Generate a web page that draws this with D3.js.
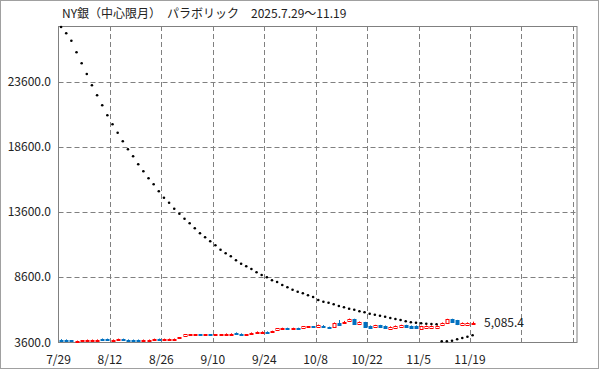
<!DOCTYPE html>
<html>
<head>
<meta charset="utf-8">
<script src="https://cdn.jsdelivr.net/npm/d3@7"></script>
<style>
	body { margin: 0; background: #fff; }
	text { font-family: "Noto Sans CJK JP", sans-serif; fill: #222; }
</style>
</head>
<body>
<svg id="chart" width="599" height="369"></svg>
<script>
// trading days 2025.7.29 - 11.19
var dates = [
	"7/29", "7/30", "7/31", "8/1", "8/4", "8/5", "8/6", "8/7", "8/8", "8/11",
	"8/12", "8/13", "8/14", "8/15", "8/18", "8/19", "8/20", "8/21", "8/22", "8/25",
	"8/26", "8/27", "8/28", "8/29", "9/2", "9/3", "9/4", "9/5", "9/8", "9/9",
	"9/10", "9/11", "9/12", "9/15", "9/16", "9/17", "9/18", "9/19", "9/22", "9/23",
	"9/24", "9/25", "9/26", "9/29", "9/30", "10/1", "10/2", "10/3", "10/6", "10/7",
	"10/8", "10/9", "10/10", "10/13", "10/14", "10/15", "10/16", "10/17", "10/20", "10/21",
	"10/22", "10/23", "10/24", "10/27", "10/28", "10/29", "10/30", "10/31", "11/3", "11/4",
	"11/5", "11/6", "11/7", "11/10", "11/11", "11/12", "11/13", "11/14", "11/17", "11/18",
	"11/19"
];

var open = [
	3780, 3770, 3720, 3660, 3690, 3740, 3745, 3750, 3850, 3845,
	3750, 3815, 3845, 3780, 3775, 3770, 3740, 3745, 3810, 3850,
	3815, 3820, 3820, 3890, 4008, 4150, 4150, 4180, 4160, 4195,
	4160, 4165, 4210, 4215, 4320, 4240, 4160, 4285, 4365, 4370,
	4400, 4415, 4480, 4650, 4685, 4650, 4685, 4640, 4775, 4810,
	4740, 4810, 4760, 4760, 5087, 5110, 5240, 5360, 5040, 5130,
	4850, 4780, 4900, 4856, 4660, 4730, 4728, 4908, 4856, 4856,
	4626, 4730, 4730, 4740, 4933, 5087, 5369, 5267, 4933, 4940,
	5010
];
var high = [
	3820, 3800, 3740, 3710, 3740, 3790, 3790, 3800, 3870, 3860,
	3800, 3860, 3860, 3800, 3790, 3790, 3790, 3790, 3860, 3865,
	3860, 3865, 3870, 3970, 4210, 4215, 4200, 4200, 4215, 4215,
	4210, 4215, 4260, 4265, 4340, 4265, 4215, 4335, 4415, 4420,
	4420, 4470, 4660, 4700, 4700, 4700, 4700, 4815, 4830, 4830,
	4940, 4900, 4780, 5100, 5292, 5220, 5400, 5390, 5180, 5150,
	4870, 4920, 4920, 4870, 4800, 4870, 4925, 4925, 4870, 4875,
	4845, 4870, 4870, 4880, 5100, 5385, 5390, 5300, 5100, 5105,
	5164
];
var low = [
	3700, 3720, 3660, 3654, 3680, 3720, 3730, 3730, 3800, 3800,
	3730, 3800, 3795, 3730, 3730, 3720, 3725, 3730, 3790, 3805,
	3800, 3805, 3805, 3875, 3990, 4130, 4130, 4120, 4140, 4140,
	4145, 4150, 4195, 4200, 4270, 4160, 4145, 4270, 4350, 4355,
	4345, 4400, 4460, 4630, 4600, 4635, 4610, 4625, 4760, 4755,
	4725, 4740, 4700, 4740, 4920, 5080, 5220, 4980, 5020, 4690,
	4690, 4760, 4760, 4620, 4640, 4710, 4710, 4760, 4710, 4710,
	4610, 4715, 4715, 4725, 4915, 5070, 5140, 4900, 4915, 4920,
	4990
];
var close = [
	3730, 3740, 3680, 3690, 3720, 3770, 3775, 3780, 3820, 3815,
	3780, 3845, 3815, 3750, 3745, 3740, 3770, 3775, 3845, 3820,
	3845, 3850, 3855, 3950, 4192, 4185, 4180, 4150, 4195, 4160,
	4195, 4195, 4245, 4245, 4290, 4200, 4195, 4320, 4400, 4400,
	4365, 4450, 4640, 4685, 4650, 4685, 4650, 4800, 4810, 4775,
	4920, 4775, 4725, 5080, 4933, 5150, 5360, 5000, 5160, 4710,
	4710, 4900, 4780, 4728, 4780, 4856, 4908, 4779, 4728, 4728,
	4831, 4856, 4856, 4860, 5087, 5369, 5164, 4985, 5087, 5087,
	5085.4
];

// parabolic SAR
var sar = [
	27831, 27346, 26777, 25885, 25038, 24215, 23346, 22577, 21808, 21038,
	20346, 19700, 19038, 18423, 17885, 17269, 16731, 16192, 15731, 15192,
	14700, 14315, 13854, 13469, 13085, 12731, 12346, 11962, 11654, 11346,
	11038, 10700, 10423, 10192, 9885, 9623, 9423, 9215, 8962, 8754,
	8577, 8346, 8215, 7985, 7808, 7623, 7469, 7346, 7192, 7062,
	6831, 6700, 6623, 6500, 6369, 6269, 6162, 6085, 5962, 5885,
	5777, 5700, 5623, 5546, 5446, 5369, 5292, 5192, 5115, 5085,
	5038, 5008, 4985, 4962, 3654, 3654, 3700, 3808, 3908, 4008,
	4115
];

var yTicks = [3600, 8600, 13600, 18600, 23600];
var xTickIdx = [0, 10, 20, 30, 40, 50, 60, 70, 80, 90, 100];
var title = "NY銀（中心限月）　パラボリック　2025.7.29～11.19";

(function () {
	var svg = d3.select("#chart");
	var W = 599, H = 369;
	var pLeft = 58.5, pRight = 577, pTop = 26, pBottom = 342;

	var x = d3.scaleLinear().domain([0, 100.8]).range([pLeft, pRight]);
	var y = d3.scaleLinear().domain([3600, 27907]).range([pBottom, pTop]);
	var cx = function (i) { return x(i + 0.5); };
	var upColor = "#ff0000", downColor = "#0070c0", gridColor = "#808080";

	// outer frame
	svg.append("rect")
		.attr("x", 0.5).attr("y", 0.5)
		.attr("width", W - 1).attr("height", H - 1)
		.attr("fill", "#fff").attr("stroke", "#a0a0a0");

	// grid
	svg.append("g").selectAll("line")
		.data(yTicks.slice(1)).enter().append("line")
		.attr("x1", pLeft).attr("x2", pRight)
		.attr("y1", function (d) { return Math.round(y(d)) + 0.5; })
		.attr("y2", function (d) { return Math.round(y(d)) + 0.5; })
		.attr("stroke", gridColor).attr("stroke-dasharray", "5,3");

	svg.append("g").selectAll("line")
		.data(xTickIdx.slice(1)).enter().append("line")
		.attr("x1", function (d) { return Math.round(x(d)) + 0.5; })
		.attr("x2", function (d) { return Math.round(x(d)) + 0.5; })
		.attr("y1", pTop).attr("y2", pBottom)
		.attr("stroke", gridColor).attr("stroke-dasharray", "5,3");

	// plot border
	svg.append("rect")
		.attr("x", pLeft).attr("y", pTop + 0.5)
		.attr("width", pRight - pLeft).attr("height", pBottom - pTop)
		.attr("fill", "none").attr("stroke", "#808080");

	// y labels
	svg.append("g").selectAll("text")
		.data(yTicks).enter().append("text")
		.attr("x", 51)
		.attr("y", function (d) { return y(d) + 4.5; })
		.attr("text-anchor", "end")
		.attr("font-size", 12)
		.text(function (d) { return d3.format(".1f")(d); });

	// x labels
	svg.append("g").selectAll("text")
		.data(xTickIdx.filter(function (d) { return d < dates.length; })).enter().append("text")
		.attr("x", function (d) { return x(d); })
		.attr("y", 364)
		.attr("text-anchor", "middle")
		.attr("font-size", 12)
		.text(function (d) { return dates[d]; });

	// candles
	var idx = d3.range(dates.length);
	var candle = svg.append("g").selectAll("g")
		.data(idx).enter().append("g");

	candle.append("line")
		.attr("x1", function (i) { return Math.round(cx(i)) + 0.5; })
		.attr("x2", function (i) { return Math.round(cx(i)) + 0.5; })
		.attr("y1", function (i) { return y(high[i]); })
		.attr("y2", function (i) { return y(low[i]); })
		.attr("stroke", function (i) { return close[i] >= open[i] ? upColor : downColor; });

	candle.append("rect")
		.attr("x", function (i) { return Math.round(cx(i)) - 1; })
		.attr("width", 3)
		.attr("y", function (i) { return Math.round(y(Math.max(open[i], close[i]))) + 0.5; })
		.attr("height", function (i) {
			return Math.max(1, Math.round(y(Math.min(open[i], close[i])) - y(Math.max(open[i], close[i]))));
		})
		.attr("fill", function (i) { return close[i] >= open[i] ? "#fff" : downColor; })
		.attr("stroke", function (i) { return close[i] >= open[i] ? upColor : downColor; });

	// SAR dots
	svg.append("g").selectAll("circle")
		.data(idx).enter().append("circle")
		.attr("cx", function (i) { return cx(i); })
		.attr("cy", function (i) { return y(sar[i]); })
		.attr("r", 1.3)
		.attr("fill", "#000");

	// last value
	var last = dates.length - 1;
	svg.append("text")
		.attr("x", 484)
		.attr("y", y(close[last]) + 4.5)
		.attr("font-size", 12)
		.text(d3.format(",.1f")(close[last]));

	// title
	svg.append("text")
		.attr("x", 62)
		.attr("y", 18)
		.attr("font-size", 12)
		.text(title);
})();
</script>
</body>
</html>
